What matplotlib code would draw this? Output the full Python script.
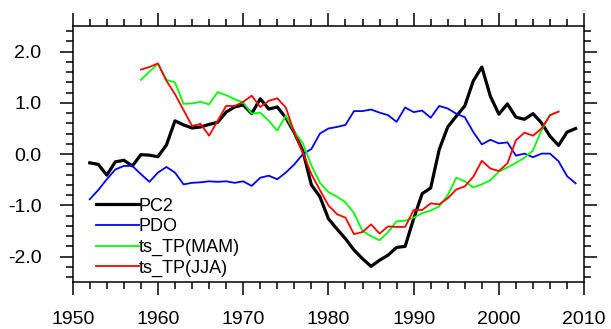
import matplotlib
matplotlib.use("Agg")
import matplotlib.pyplot as plt
from matplotlib.ticker import MultipleLocator

plt.rcParams["font.family"] = ["Liberation Sans", "DejaVu Sans"]

pc2_years = list(range(1952, 2010))
pc2 = [-0.17, -0.20, -0.41, -0.15, -0.12, -0.23, -0.01, -0.02, -0.05, 0.18,
       0.65, 0.57, 0.51, 0.53, 0.58, 0.62, 0.82, 0.92, 0.96, 0.79,
       1.08, 0.88, 0.92, 0.71, 0.42, 0.06, -0.60, -0.83, -1.26, -1.46,
       -1.65, -1.87, -2.04, -2.19, -2.07, -1.97, -1.82, -1.80, -1.26, -0.77,
       -0.66, 0.09, 0.53, 0.74, 0.94, 1.43, 1.70, 1.13, 0.78, 0.98,
       0.72, 0.68, 0.79, 0.61, 0.35, 0.17, 0.43, 0.50]

pdo_years = list(range(1952, 2010))
pdo = [-0.88, -0.70, -0.49, -0.30, -0.23, -0.23, -0.39, -0.54, -0.36, -0.25,
       -0.36, -0.59, -0.56, -0.55, -0.53, -0.54, -0.53, -0.56, -0.53, -0.62,
       -0.46, -0.42, -0.49, -0.36, -0.20, 0.00, 0.10, 0.40, 0.50, 0.53,
       0.57, 0.84, 0.84, 0.87, 0.81, 0.76, 0.63, 0.91, 0.82, 0.85,
       0.71, 0.94, 0.89, 0.79, 0.72, 0.43, 0.19, 0.28, 0.21, 0.23,
       -0.03, 0.01, -0.06, 0.01, 0.01, -0.14, -0.43, -0.57]

tp_years = list(range(1958, 2008))
mam = [1.45, 1.61, 1.76, 1.45, 1.40, 0.98, 0.99, 1.02, 0.97, 1.21,
       1.15, 1.07, 1.01, 0.79, 0.81, 0.65, 0.46, 0.75, 0.44, 0.21,
       -0.22, -0.56, -0.74, -0.83, -0.94, -1.15, -1.50, -1.60, -1.68, -1.52,
       -1.31, -1.30, -1.24, -1.15, -1.10, -1.02, -0.80, -0.46, -0.53, -0.65,
       -0.59, -0.51, -0.34, -0.26, -0.17, -0.07, 0.07, 0.47, 0.76, 0.83]
jja = [1.65, 1.70, 1.77, 1.43, 1.17, 0.86, 0.55, 0.59, 0.36, 0.65,
       0.94, 0.94, 1.02, 1.14, 0.92, 1.04, 1.09, 0.91, 0.42, 0.03,
       -0.39, -0.70, -1.00, -1.17, -1.24, -1.56, -1.52, -1.37, -1.55, -1.41,
       -1.42, -1.42, -1.09, -1.09, -0.96, -0.98, -0.86, -0.69, -0.63, -0.44,
       -0.13, -0.28, -0.33, -0.18, 0.27, 0.42, 0.36, 0.50, 0.76, 0.83]

fig = plt.figure(figsize=(6.11, 3.29), dpi=100)
ax = fig.add_axes([0.119, 0.142, 0.837, 0.779])

ax.plot(pc2_years, pc2, color="black", lw=2.3, label="PC2")
ax.plot(pdo_years, pdo, color="#0000ff", lw=1.3, label="PDO")
ax.plot(tp_years, mam, color="#00ff00", lw=1.3, label="ts_TP(MAM)")
ax.plot(tp_years, jja, color="#ff0000", lw=1.3, label="ts_TP(JJA)")

ax.set_xlim(1950, 2010)
ax.set_ylim(-2.5, 2.5)
ax.xaxis.set_major_locator(MultipleLocator(10))
ax.xaxis.set_minor_locator(MultipleLocator(2))
ax.yaxis.set_major_locator(MultipleLocator(1))
ax.yaxis.set_minor_locator(MultipleLocator(0.2))
ax.yaxis.set_major_formatter(plt.FuncFormatter(lambda v, p: f"{v:.1f}"))

ax.tick_params(which="both", direction="out", top=True, right=True,
               width=1.1, labelsize=14)
ax.tick_params(which="major", length=9.5)
ax.tick_params(which="minor", length=4.8)
ax.tick_params(axis="x", which="major", pad=11)
ax.tick_params(axis="y", which="major", pad=13)
for s in ax.spines.values():
    s.set_linewidth(1.1)

ax.legend(loc="upper left", bbox_to_anchor=(0.045, 0.33), frameon=False,
          fontsize=13, handlelength=2.37, handletextpad=0.0,
          labelspacing=0.2, borderpad=0, borderaxespad=0)

fig.savefig("out.png", dpi=100)
